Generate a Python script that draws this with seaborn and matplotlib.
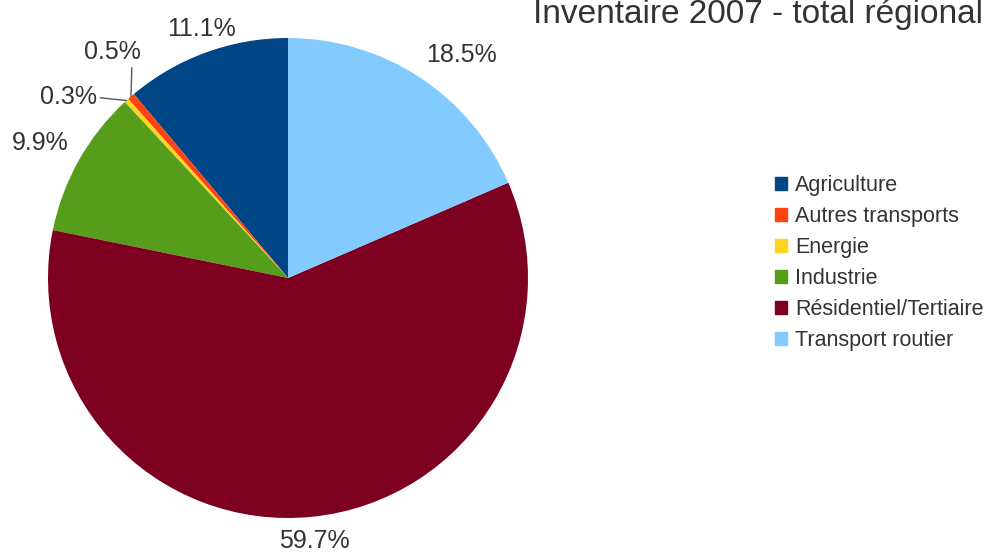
import matplotlib
matplotlib.use("Agg")
import matplotlib.pyplot as plt
import matplotlib.patches as mpatches
import numpy as np
import seaborn as sns

categories = ["Agriculture", "Autres transports", "Energie", "Industrie",
              "Résidentiel/Tertiaire", "Transport routier"]
shares = [11.1, 0.5, 0.3, 9.9, 59.7, 18.5]
colors = ["#004586", "#ff420e", "#ffd320", "#579d1c", "#7e0021", "#83caff"]
title = "Inventaire 2007 - total régional"

sns.set_style("white")
plt.rcParams["font.family"] = ["Liberation Sans", "DejaVu Sans"]
text_color = "#333333"

fig = plt.figure(figsize=(9.87, 5.54), dpi=100)
ax = fig.add_axes([48 / 987, 36 / 554, 480 / 987, 480 / 554])

palette = sns.color_palette(colors)
wedges, _ = ax.pie(shares, colors=palette, startangle=90, counterclock=True,
                   radius=1, wedgeprops=dict(linewidth=0))
ax.set_xlim(-1, 1)
ax.set_ylim(-1, 1)
ax.set_aspect("equal")
ax.axis("off")

# small slices get leader lines
leader = {
    "Autres transports": dict(offset=(-19, 44), relpos=(0.85, 0.0)),
    "Energie": dict(offset=(-58, 3), relpos=(1.0, 0.5)),
}

for w, cat, val in zip(wedges, categories, shares):
    ang = np.deg2rad((w.theta1 + w.theta2) / 2)
    c, s = np.cos(ang), np.sin(ang)
    label = f"{val:.1f}%"
    if cat in leader:
        opt = leader[cat]
        ax.annotate(label, xy=(c, s), xytext=opt["offset"], textcoords="offset pixels",
                    ha="center", va="center", fontsize=18, color=text_color,
                    arrowprops=dict(arrowstyle="-", color="#555555", lw=1,
                                    relpos=opt["relpos"], shrinkA=0, shrinkB=0))
        continue
    ha = "left" if c > 0.45 else ("right" if c < -0.45 else "center")
    va = "bottom" if s > 0.3 else ("top" if s < -0.3 else "center")
    ax.text(1.05 * c, 1.05 * s, label, ha=ha, va=va, fontsize=18, color=text_color)

fig.text(983 / 987, 1 - 15 / 554, title, ha="right", va="center",
         fontsize=24, color=text_color)

handles = [mpatches.Patch(color=col, label=cat) for cat, col in zip(categories, palette)]
leg = fig.legend(handles=handles, loc="center left",
                 bbox_to_anchor=(775 / 987, 1 - 263 / 554), frameon=False,
                 borderaxespad=0, borderpad=0,
                 fontsize=15.5, handlelength=0.55, handleheight=0.55,
                 handletextpad=0.4, labelspacing=0.47)
for t in leg.get_texts():
    t.set_color(text_color)

fig.savefig("out.png", dpi=100)
